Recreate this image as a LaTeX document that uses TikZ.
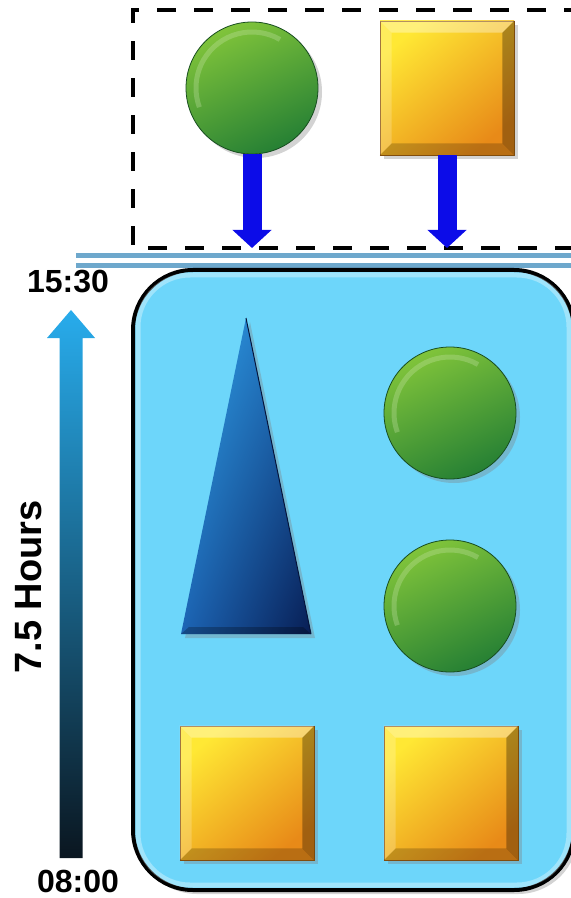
\documentclass[tikz,border=0pt]{standalone}
\usepackage{fontspec}
\setmainfont{Liberation Sans}
\usetikzlibrary{arrows.meta,calc,shadows,shadings}

\definecolor{trayblue}{RGB}{109,214,250}
\definecolor{railblue}{RGB}{110,168,204}
\definecolor{pushblue}{RGB}{12,12,232}
\definecolor{leafgreen}{RGB}{128,196,58}
\definecolor{deepgreen}{RGB}{38,128,52}
\definecolor{goldlight}{RGB}{255,232,52}
\definecolor{golddark}{RGB}{232,138,24}
\definecolor{conelight}{RGB}{50,168,236}
\definecolor{conemid}{RGB}{28,100,180}
\definecolor{conedark}{RGB}{8,30,84}
\definecolor{timetop}{RGB}{40,172,236}
\definecolor{timebottom}{RGB}{10,22,32}

\tikzset{
  softshadow/.style={drop shadow={opacity=0.35,shadow xshift=2pt,shadow yshift=-2pt}},
  ball/.style={circle,minimum size=66pt,inner sep=0pt,draw=deepgreen!60!black,line width=0.4pt,
    top color=leafgreen,bottom color=deepgreen,shading angle=25,softshadow,
    path picture={\draw[leafgreen!40!white,opacity=0.3,line width=2.5pt]
      ([shift={(60:28pt)}]path picture bounding box.center) arc[start angle=60,end angle=200,radius=28pt];}},
  goldsq/.style={rectangle,minimum size=67pt,inner sep=0pt,draw=golddark!60!black,line width=0.3pt,
    top color=goldlight,bottom color=golddark,shading angle=40,softshadow},
  push/.style={pushblue,line width=9.5pt,-{Triangle[width=19pt,length=9pt]}},
  rail/.style={railblue,line width=2.5pt},
  fence/.style={black,line width=2pt,dash pattern=on 9.5pt off 9pt},
  tray/.style={rectangle,rounded corners=30pt,minimum width=220.5pt,minimum height=310pt,
    fill=trayblue,draw=black,line width=2pt,softshadow},
  clock/.style={font=\bfseries\fontsize{16pt}{18pt}\selectfont,inner sep=0pt},
  span/.style={font=\bfseries\fontsize{19pt}{21pt}\selectfont,inner sep=0pt}
}

% bevelled gold square
\newcommand\goldbox[2]{%
  \node[goldsq] (#1) at (#2) {};
  \fill[white,opacity=0.35] (#1.north west) -- (#1.north east) -- ($(#1.north east)+(-12,12)$) -- ($(#1.north west)+(12,12)$) -- cycle;
  \fill[white,opacity=0.2] (#1.north west) -- ($(#1.north west)+(12,12)$) -- ($(#1.south west)+(12,-12)$) -- (#1.south west) -- cycle;
  \fill[black,opacity=0.2] (#1.south west) -- ($(#1.south west)+(12,-12)$) -- ($(#1.south east)+(-12,-12)$) -- (#1.south east) -- cycle;
  \fill[black,opacity=0.3] (#1.north east) -- (#1.south east) -- ($(#1.south east)+(-12,-12)$) -- ($(#1.north east)+(-12,12)$) -- cycle;
}

\begin{document}
\begin{tikzpicture}[x=0.5pt,y=-0.5pt]
  \useasboundingbox (0,0) rectangle (570,898);

  % Incoming items
  \draw[fence] (574,248) -- (133,248) -- (133,10) -- (574,10);
  \coordinate (gate) at (0,248);
  \node[ball] (inball) at (252,88) {};
  \goldbox{inbox}{447,88}
  \draw[push] (inball.south) -- (inball.south |- gate);
  \draw[push] (inbox.south) -- (inbox.south |- gate);

  % Rails
  \draw[rail] (76,255.5) -- (572,255.5);
  \draw[rail] (76,265.5) -- (572,265.5);

  % Tray
  \node[tray] (tray) at (353.5,580) {};
  \draw[white,opacity=0.35,line width=2.5pt,rounded corners=26pt]
    ($(tray.north west)+(7,7)$) rectangle ($(tray.south east)+(-7,-7)$);

  % Cone
  \coordinate (apex) at (246,318);
  \coordinate (baseL) at (181,634);
  \coordinate (baseR) at (311,634);
  \shade[upper left=conelight,upper right=conemid,lower left=conemid,lower right=conedark,softshadow]
    (apex) -- (baseL) -- (baseR) -- cycle;
  \draw[conedark!70!black,line width=0.5pt] (apex) -- (baseR);
  \fill[black,opacity=0.25] (baseL) -- (baseR) -- ($(baseR)+(-8,-7)$) -- ($(baseL)+(8,-7)$) -- cycle;

  % Contents
  \node[ball] (ballA) at (450,413) {};
  \node[ball] (ballB) at (450,606) {};
  \goldbox{boxA}{247,793}
  \goldbox{boxB}{451,793}

  % Time axis
  \node[clock] (stop) at (68,282) {15:30};
  \node[clock] (start) at (78,881) {08:00};
  \node[span,rotate=90] (dur) at (29,587) {7.5 Hours};
  \coordinate (tail) at (71,858);
  \coordinate (tip) at (71,310);
  \shade[bottom color=timebottom,top color=timetop]
    ($(tail)+(-11.5,0)$) -- ($(tip)+(-11.5,28)$) -- ($(tip)+(-24,28)$) -- (tip)
    -- ($(tip)+(24,28)$) -- ($(tip)+(11.5,28)$) -- ($(tail)+(11.5,0)$) -- cycle;
\end{tikzpicture}
\end{document}
